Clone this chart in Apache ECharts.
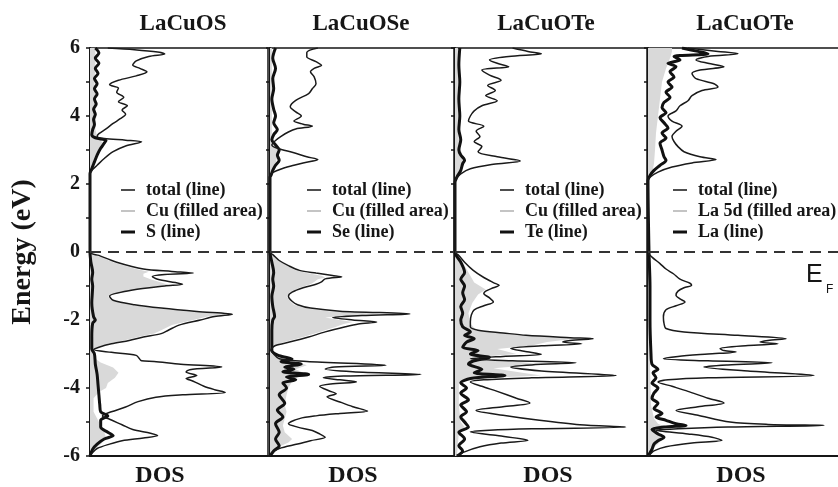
<!DOCTYPE html>
<html>
<head>
<meta charset="utf-8">
<script src="https://cdn.jsdelivr.net/npm/echarts@6/dist/echarts.min.js"></script>
<style>
html,body{margin:0;padding:0;background:#fff;width:838px;height:487px;overflow:hidden}
#c{display:block;width:838px;height:487px}
</style>
</head>
<body>
<div id="c"></div>
<script>
// ---------- DATA ([energy eV, DOS in % of panel width]) ----------
const panelTitles = ['LaCuOS', 'LaCuOSe', 'LaCuOTe', 'LaCuOTe'];
const energyTickLabels = [6, 4, 2, 0, -2, -4, -6];
const legendTotal = 'total (line)';
const legendFill = ['Cu (filled area)', 'Cu (filled area)', 'Cu (filled area)', 'La 5d (filled area)'];
const legendPartial = ['S (line)', 'Se (line)', 'Te (line)', 'La (line)'];

const p1Total = [[6.0,10],[5.95,25],[5.88,38],[5.82,42],[5.75,33],[5.62,26],[5.5,24],[5.4,28],[5.3,32],[5.18,26],[5.05,16],[4.92,11],[4.82,16],[4.7,15],[4.55,19],[4.42,16],[4.3,21],[4.18,18],[4.05,20],[3.92,17],[3.78,13],[3.62,9],[3.48,5],[3.4,4],[3.34,8],[3.29,20],[3.24,29],[3.12,20],[2.95,13],[2.75,8],[2.55,4],[2.4,1],[2.3,0],[0,0],
[-0.1,5],[-0.3,15],[-0.5,30],[-0.57,46],[-0.62,58],[-0.66,42],[-0.72,35],[-0.8,38],[-0.9,48],[-0.95,52],[-1.0,42],[-1.12,24],[-1.3,11],[-1.42,13],[-1.55,25],[-1.65,40],[-1.75,60],[-1.83,80],[-1.9,70],[-2.0,62],[-2.15,50],[-2.3,44],[-2.4,40],[-2.5,30],[-2.6,22],[-2.7,12],[-2.8,5],[-2.87,2],[-2.95,12],[-3.04,26],[-3.2,29],[-3.22,36],[-3.3,51],[-3.38,74],[-3.46,56],[-3.53,54],[-3.63,60],[-3.72,54],[-3.8,58],[-3.95,64],[-4.05,70],[-4.13,76],[-4.2,52],[-4.27,37],[-4.4,27],[-4.56,20],[-4.7,12],[-4.82,7],[-4.92,11],[-5.08,18],[-5.22,24],[-5.33,34],[-5.4,38],[-5.47,30],[-5.55,18],[-5.65,11],[-5.78,4],[-5.9,1.5],[-6.0,0]];
const p1Fill = [[6.0,3],[5.5,3],[5.0,2.5],[4.5,3],[4.0,3.5],[3.6,3],[3.4,4],[3.3,6],[3.2,7],[3.0,6],[2.8,4],[2.55,2],[2.3,0],[0,0],
[-0.1,4],[-0.3,13],[-0.5,26],[-0.58,33],[-0.64,30],[-0.72,30],[-0.8,34],[-0.9,40],[-0.96,44],[-1.02,36],[-1.15,20],[-1.3,10],[-1.42,12],[-1.55,22],[-1.65,36],[-1.75,55],[-1.83,76],[-1.9,66],[-2.0,58],[-2.15,46],[-2.3,40],[-2.4,36],[-2.5,27],[-2.6,19],[-2.7,10],[-2.8,4],[-2.9,1.5],[-3.1,2],[-3.25,6],[-3.4,13],[-3.55,16],[-3.7,14],[-3.85,10],[-4.0,9],[-4.12,5],[-4.3,2],[-4.7,2],[-4.9,4],[-5.1,6],[-5.3,8],[-5.45,9],[-5.6,7],[-5.75,4],[-5.9,1],[-6,0]];
const p1Part = [[6.0,3],[5.85,5],[5.7,3],[5.55,5],[5.4,3],[5.25,4.5],[5.1,2.5],[4.95,4],[4.8,2.5],[4.65,4],[4.5,2.5],[4.35,3.5],[4.2,2],[4.05,3],[3.9,2],[3.75,2.5],[3.6,1.5],[3.45,1],[3.36,3],[3.28,9],[3.2,8],[3.05,6],[2.85,4],[2.65,2.5],[2.45,1],[2.3,0],[0,0],
[-0.3,0.5],[-0.6,1.5],[-0.8,1],[-1.0,1.5],[-1.5,1],[-1.9,2],[-2.0,3],[-2.1,1.5],[-2.5,1],[-2.85,1],[-3.0,2.5],[-3.3,3],[-3.6,4],[-3.9,4.5],[-4.2,5],[-4.5,5.5],[-4.7,6],[-4.82,10],[-4.95,6],[-5.15,6],[-5.3,10],[-5.4,13],[-5.5,8],[-5.65,4],[-5.8,1.5],[-6,0]];

const p2Total = [[6.0,26],[5.87,20],[5.74,20],[5.6,25],[5.49,28],[5.4,24],[5.3,22],[5.15,24],[4.95,25],[4.8,23],[4.66,21],[4.46,14],[4.27,11],[4.12,14],[4.0,17],[3.85,13],[3.76,18],[3.7,23],[3.62,14],[3.53,10],[3.4,6],[3.28,3],[3.15,1],[3.05,4],[2.92,13],[2.8,20],[2.72,26],[2.62,18],[2.55,13],[2.42,5],[2.3,0.5],[2.2,0],[0,0],
[-0.1,2],[-0.25,5],[-0.4,10],[-0.54,16],[-0.62,25],[-0.69,34],[-0.73,39],[-0.79,30],[-0.88,28],[-0.95,25],[-1.05,18],[-1.18,12],[-1.3,10],[-1.45,12],[-1.55,15],[-1.65,22],[-1.74,38],[-1.82,76],[-1.87,50],[-1.93,34],[-2.0,45],[-2.06,58],[-2.12,48],[-2.2,41],[-2.35,30],[-2.5,21],[-2.65,10.6],[-2.75,3],[-2.88,0.5],[-3.0,2],[-3.14,5],[-3.22,20],[-3.33,63],[-3.38,35],[-3.44,30],[-3.52,45],[-3.6,82],[-3.65,40],[-3.7,29],[-3.76,38],[-3.82,47],[-3.88,33],[-3.95,27],[-4.08,32],[-4.17,36],[-4.26,31],[-4.41,38],[-4.55,45],[-4.68,53],[-4.75,38],[-4.82,25],[-4.9,16],[-5.05,10],[-5.15,15],[-5.25,23],[-5.35,27],[-5.45,30],[-5.55,22],[-5.65,15],[-5.78,5],[-5.93,0.5],[-6,0]];
const p2Fill = [[6.0,1],[4.0,1],[3.4,1],[3.2,2],[3.0,4],[2.8,4],[2.6,3],[2.4,1.5],[2.2,0],[0,0],
[-0.1,2],[-0.25,4.5],[-0.4,9],[-0.54,14],[-0.62,20],[-0.7,28],[-0.75,30],[-0.8,26],[-0.88,24],[-0.95,22],[-1.05,16],[-1.18,11],[-1.3,9],[-1.45,11],[-1.55,13],[-1.65,19],[-1.74,32],[-1.82,60],[-1.87,45],[-1.93,30],[-2.0,38],[-2.06,45],[-2.12,40],[-2.2,36],[-2.35,27],[-2.5,18],[-2.65,8],[-2.75,2],[-2.9,0.5],[-3.0,3],[-3.15,10],[-3.25,16],[-3.33,20],[-3.45,14],[-3.55,18],[-3.65,16],[-3.8,12],[-4.0,10],[-4.2,9],[-4.5,8],[-4.7,9],[-4.9,8],[-5.1,7],[-5.3,8],[-5.5,12],[-5.6,10],[-5.75,4],[-5.9,1],[-6,0]];
const p2Part = [[6.0,3],[5.7,1.5],[5.4,3],[5.1,1.5],[4.8,2],[4.5,1],[4.2,2],[4.0,3],[3.8,2],[3.6,4],[3.45,2],[3.3,1],[3.15,3],[3.0,5],[2.85,4],[2.7,5],[2.55,3],[2.4,1.5],[2.25,0.5],[2.2,0],[0,0],
[-0.3,1],[-0.6,2],[-0.8,1.5],[-1.0,2],[-1.3,1],[-1.6,1.5],[-1.9,2.5],[-2.0,1.5],[-2.3,1],[-2.6,1],[-2.9,1],[-3.05,5],[-3.15,12],[-3.22,6],[-3.3,17],[-3.38,8],[-3.45,13],[-3.52,7],[-3.6,21],[-3.68,9],[-3.76,14],[-3.85,7],[-4.0,9],[-4.2,5],[-4.45,8],[-4.65,4],[-4.85,7],[-5.05,3],[-5.3,5],[-5.5,3],[-5.7,5],[-5.85,2],[-6,0]];

const p3Total = [[6.0,30],[5.9,38],[5.83,45],[5.75,28],[5.65,18],[5.55,22],[5.45,28],[5.35,14],[5.2,18],[5.05,24],[4.9,17],[4.75,21],[4.6,16],[4.45,22],[4.3,14],[4.15,10],[4.0,8],[3.85,7],[3.7,15],[3.55,11],[3.4,13],[3.25,10],[3.1,14],[2.95,12],[2.8,22],[2.68,34],[2.58,20],[2.45,8],[2.3,3],[2.15,0.5],[2.05,0],[0,0],
[-0.1,2],[-0.3,5],[-0.54,9.5],[-0.75,15],[-0.9,20],[-0.98,23],[-1.05,20],[-1.15,16],[-1.22,15],[-1.35,18],[-1.47,20],[-1.58,15],[-1.7,10],[-1.85,8.5],[-2.05,8],[-2.2,8],[-2.3,12],[-2.38,25],[-2.45,37],[-2.52,60],[-2.55,72],[-2.6,60],[-2.65,56],[-2.7,66],[-2.76,45],[-2.84,29],[-2.92,36],[-3.01,45],[-3.07,25],[-3.14,8],[-3.2,30],[-3.26,63],[-3.32,40],[-3.38,29],[-3.5,45],[-3.63,84],[-3.7,40],[-3.76,15],[-3.82,8],[-3.95,14],[-4.1,22],[-4.3,32],[-4.44,39],[-4.55,25],[-4.66,11],[-4.8,25],[-4.95,44],[-5.08,65],[-5.15,89],[-5.2,40],[-5.24,18],[-5.29,8],[-5.4,22],[-5.54,38],[-5.62,24],[-5.73,13],[-5.88,5],[-6,1]];
const p3Fill = [[6.0,1.5],[5.5,1.5],[4.5,1.5],[3.6,1.5],[3.3,2],[3.0,3],[2.8,4],[2.6,4],[2.4,3],[2.2,1],[2.05,0],[0,0],
[-0.3,4],[-0.6,7],[-0.9,10],[-1.0,13],[-1.1,16],[-1.25,12],[-1.5,9],[-1.8,7],[-2.1,8],[-2.3,11],[-2.4,25],[-2.5,55],[-2.55,62],[-2.65,48],[-2.75,40],[-2.85,22],[-3.0,32],[-3.1,8],[-3.2,28],[-3.3,45],[-3.42,20],[-3.55,35],[-3.63,45],[-3.72,10],[-3.85,2],[-4.5,2],[-5.0,3],[-5.15,5],[-5.3,2],[-6,1]];
const p3Part = [[6.0,2.5],[5.5,2],[5.0,2.5],[4.5,2],[4.0,2.5],[3.6,2],[3.3,3],[3.0,2],[2.85,3],[2.7,5],[2.6,4],[2.4,3],[2.2,1],[2.05,0],[0,0],
[-0.3,3],[-0.6,5],[-0.8,3],[-1.0,5],[-1.2,4],[-1.4,5],[-1.6,3],[-1.8,4],[-2.0,3],[-2.2,4],[-2.35,8],[-2.45,5],[-2.55,10],[-2.65,6],[-2.8,4],[-2.9,12],[-3.0,8],[-3.1,18],[-3.2,10],[-3.3,7],[-3.45,14],[-3.55,10],[-3.63,26],[-3.72,8],[-3.85,3],[-4.0,6],[-4.15,3],[-4.35,7],[-4.5,3],[-4.7,6],[-4.85,3],[-5.0,5],[-5.15,7],[-5.3,2],[-5.5,5],[-5.7,2],[-5.85,4],[-6,1]];

const p4Total = [[6.0,20],[5.9,35],[5.83,45],[5.75,30],[5.65,24],[5.55,30],[5.45,38],[5.35,26],[5.25,22],[5.1,24],[4.95,33],[4.85,35],[4.75,27],[4.6,22],[4.45,20],[4.3,16],[4.15,14],[4.0,10],[3.85,12],[3.7,17],[3.55,14],[3.4,12],[3.25,13],[3.1,15],[2.95,18],[2.8,26],[2.72,34],[2.62,22],[2.5,12],[2.35,5],[2.2,1],[2.1,0],[0,0],
[-0.15,2],[-0.34,6],[-0.5,9],[-0.64,12.7],[-0.8,16],[-0.92,21],[-0.98,21.8],[-1.05,18],[-1.15,15],[-1.27,14],[-1.38,16],[-1.47,18.5],[-1.58,14],[-1.7,9],[-1.91,7.7],[-2.1,8],[-2.25,9],[-2.35,18],[-2.45,45],[-2.55,69],[-2.6,60],[-2.65,56],[-2.7,65],[-2.75,50],[-2.84,36],[-2.9,38],[-2.94,44],[-3.0,30],[-3.07,15],[-3.14,7.7],[-3.2,30],[-3.26,62],[-3.32,40],[-3.38,28],[-3.5,50],[-3.63,83],[-3.7,30],[-3.76,10],[-3.82,5],[-3.95,12],[-4.1,20],[-4.3,30],[-4.44,38],[-4.55,25],[-4.66,14],[-4.8,25],[-5.0,41],[-5.07,60],[-5.1,88],[-5.15,40],[-5.2,15],[-5.24,4],[-5.35,20],[-5.45,32],[-5.54,37],[-5.62,22],[-5.73,9],[-5.85,3],[-5.95,1],[-6,0]];
const p4Fill = [[6.0,12],[5.9,12],[5.7,11],[5.4,9],[5.0,7],[4.5,6],[4.0,5],[3.5,4],[3.0,3.5],[2.6,3],[2.3,2],[2.1,0],[0,0],
[-1,0.5],[-3.3,1],[-4.5,1.5],[-4.9,3],[-5.05,5],[-5.12,8],[-5.2,3],[-5.35,6],[-5.5,7],[-5.65,5],[-5.8,2],[-6,0]];
const p4Part = [[6.0,17],[5.9,25],[5.83,30],[5.75,13],[5.65,16],[5.55,10],[5.45,14],[5.3,11],[5.15,13],[5.0,10],[4.85,12],[4.7,9],[4.55,11],[4.4,8],[4.25,7],[4.1,9],[3.95,6],[3.8,8],[3.65,10],[3.5,7],[3.35,9],[3.2,6],[3.0,7],[2.8,8],[2.7,9],[2.55,6],[2.4,3],[2.25,1],[2.1,0],[0,0.5],
[-1,1],[-2,1],[-3,1.5],[-3.3,2],[-3.45,5],[-3.55,2.5],[-3.7,4],[-3.85,2],[-4.0,5],[-4.15,3],[-4.3,2],[-4.45,5],[-4.6,3],[-4.75,7],[-4.85,4],[-4.95,9],[-5.05,14],[-5.1,19],[-5.15,8],[-5.22,2],[-5.35,5],[-5.45,8],[-5.55,5],[-5.65,3],[-5.8,2],[-6,0]];

const totals = [p1Total, p2Total, p3Total, p4Total];
const fills = [p1Fill, p2Fill, p3Fill, p4Fill];
const partials = [p1Part, p2Part, p3Part, p4Part];

// ---------- LAYOUT / STYLE ----------
const SERIF = '"Liberation Serif","Times New Roman",serif';
const INK = '#161616';
const FILL = '#d9d9d9';
const grids = [
  {left: 90, top: 48, width: 178, height: 408},
  {left: 270, top: 48, width: 184, height: 408},
  {left: 455, top: 48, width: 192, height: 408},
  {left: 648, top: 48, width: 200, height: 408}
];
const titleCenters = [183, 361, 546, 745];
const dosPadRight = [38, 18, 6, 14];
const legendLeft = [121, 307, 500, 673];

const toXY = arr => arr.map(d => [d[1], d[0]]);

function fillRenderer(arr) {
  return function (params, api) {
    if (params.dataIndex !== 0) return null;
    const pts = arr.map(d => api.coord([d[1], d[0]]));
    pts.push(api.coord([0, arr[arr.length - 1][0]]));
    pts.push(api.coord([0, arr[0][0]]));
    return {type: 'polygon', shape: {points: pts}, style: {fill: FILL}, silent: true};
  };
}

const option = {
  animation: false,
  backgroundColor: '#fff',
  grid: grids.map(g => Object.assign({
    show: true, borderColor: INK, borderWidth: 1.5, backgroundColor: 'transparent',
    containLabel: false, outerBoundsMode: 'none'
  }, g)),
  title: panelTitles.map((t, i) => ({
    text: t, left: titleCenters[i], top: 13, textAlign: 'center', padding: 0,
    textStyle: {fontFamily: SERIF, fontWeight: 'bold', fontSize: 23, color: INK}
  })),
  legend: panelTitles.map((t, i) => ({
    orient: 'vertical', left: legendLeft[i], top: 181, padding: 0,
    itemWidth: 14, itemHeight: 14, itemGap: 3, selectedMode: false, symbolKeepAspect: true,
    textStyle: {fontFamily: SERIF, fontWeight: 'bold', fontSize: 18, color: INK, padding: [0, 0, 0, 6]},
    data: [
      {name: legendTotal, icon: 'path://M0,0h14v1.6h-14z', itemStyle: {color: '#222', borderWidth: 0}},
      {name: legendFill[i], icon: 'path://M0,0h14v2h-14z', itemStyle: {color: '#c4c4c4', borderWidth: 0}},
      {name: legendPartial[i], icon: 'path://M0,0h14v3h-14z', itemStyle: {color: '#111', borderWidth: 0}}
    ]
  })),
  xAxis: grids.map((g, i) => ({
    type: 'value', gridIndex: i, min: 0, max: 100,
    axisLine: {show: true, onZero: false, lineStyle: {color: INK, width: 2}},
    axisTick: {show: false}, axisLabel: {show: false}, splitLine: {show: false},
    name: 'DOS', nameLocation: 'middle', nameGap: 8,
    nameTextStyle: {fontFamily: SERIF, fontWeight: 'bold', fontSize: 24, color: INK, verticalAlign: 'top', padding: [0, dosPadRight[i], 0, 0]}
  })),
  yAxis: grids.map((g, i) => ({
    type: 'value', gridIndex: i, min: -6, max: 6, interval: 1,
    axisLine: {show: true, onZero: false, lineStyle: {color: INK, width: 2}},
    axisTick: {show: true, length: 4, lineStyle: {color: INK, width: 1.5}},
    axisLabel: {
      show: i === 0, margin: 10, fontFamily: SERIF, fontWeight: 'bold', fontSize: 20, color: INK,
      formatter: v => energyTickLabels.indexOf(v) >= 0 ? String(v) : ''
    },
    splitLine: {show: false},
    name: i === 0 ? 'Energy (eV)' : '', nameLocation: 'middle', nameGap: 53, nameRotate: 90,
    nameTextStyle: {fontFamily: SERIF, fontWeight: 'bold', fontSize: 28, color: INK}
  })),
  graphic: [
    {type: 'text', left: 806, top: 263, style: {text: 'E', font: '25px "Liberation Sans", Arial, sans-serif', fill: INK}},
    {type: 'text', left: 826, top: 284, style: {text: 'F', font: '12px "Liberation Sans", Arial, sans-serif', fill: INK}}
  ],
  series: []
};

for (let i = 0; i < 4; i++) {
  option.series.push({
    type: 'custom', name: legendFill[i], xAxisIndex: i, yAxisIndex: i, z: 1,
    renderItem: fillRenderer(fills[i]), data: toXY(fills[i]), clip: true,
    itemStyle: {color: '#c4c4c4'}
  });
  option.series.push({
    type: 'line', name: legendPartial[i], xAxisIndex: i, yAxisIndex: i, z: 3,
    showSymbol: false, symbol: 'none', smooth: 0.3, data: toXY(partials[i]),
    lineStyle: {color: '#111', width: 3}, itemStyle: {color: '#111'}
  });
  option.series.push({
    type: 'line', name: legendTotal, xAxisIndex: i, yAxisIndex: i, z: 4,
    showSymbol: false, symbol: 'none', smooth: 0.3, data: toXY(totals[i]),
    lineStyle: {color: '#1a1a1a', width: 1.5}, itemStyle: {color: '#222'},
    markLine: {
      silent: true, symbol: 'none', label: {show: false},
      lineStyle: {type: [11, 7], color: '#333', width: 2},
      data: [{yAxis: 0}]
    }
  });
}

const chart = echarts.init(document.getElementById('c'), null, {renderer: 'canvas'});
chart.setOption(option);
</script>
</body>
</html>
